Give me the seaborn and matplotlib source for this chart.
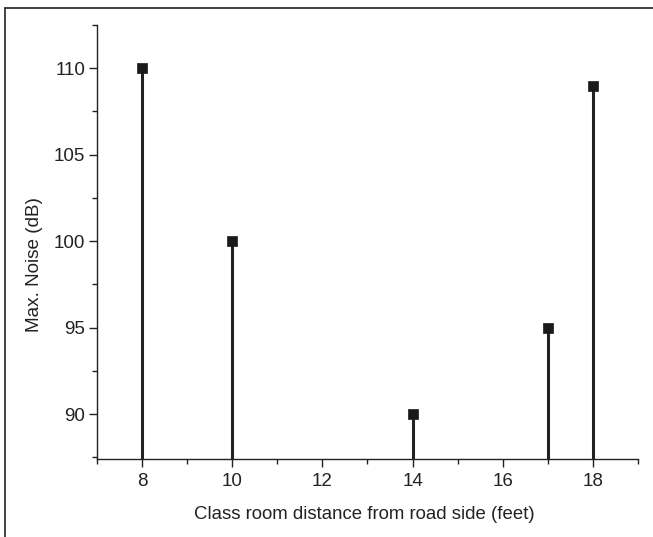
import matplotlib
matplotlib.use("Agg")
import matplotlib.pyplot as plt
from matplotlib.lines import Line2D
from matplotlib.ticker import MultipleLocator
import seaborn as sns
import pandas as pd

distance_ft = [8, 10, 14, 17, 18]
max_noise_db = [110, 100, 90, 95, 109]

df = pd.DataFrame({"distance": distance_ft, "noise": max_noise_db})

sns.set_style("ticks")
plt.rcParams["font.family"] = ["Liberation Sans", "DejaVu Sans"]

fig = plt.figure(figsize=(6.53, 5.37), dpi=100)
ax = fig.add_axes([97/653, 78/537, (638-97)/653, (459-25)/537])

ax.vlines(df["distance"], 0, df["noise"], color="#222222", linewidth=2.2, zorder=2)
sns.scatterplot(data=df, x="distance", y="noise", marker="s", s=55, color="#1a1a1a",
                edgecolor="#1a1a1a", linewidth=0.5, ax=ax, zorder=3, legend=False)

ax.set_xlim(7, 19)
ax.set_ylim(87.4, 112.5)
ax.xaxis.set_major_locator(MultipleLocator(2))
ax.xaxis.set_minor_locator(MultipleLocator(1))
ax.yaxis.set_major_locator(MultipleLocator(5))
ax.yaxis.set_minor_locator(MultipleLocator(2.5))

ax.tick_params(which="major", direction="out", length=6, width=1, color="#222222",
               labelsize=13.5, labelcolor="#222222")
ax.tick_params(axis="x", which="major", pad=4)
ax.tick_params(axis="y", which="major", pad=2.5)
ax.tick_params(which="minor", direction="out", length=3.5, width=1, color="#222222")

sns.despine(ax=ax)
for s in ("left", "bottom"):
    ax.spines[s].set_linewidth(1)
    ax.spines[s].set_color("#222222")

ax.set_xlabel("Class room distance from road side (feet)", fontsize=13.4, color="#222222")
ax.set_ylabel("Max. Noise (dB)", fontsize=13.6, color="#222222")
ax.xaxis.set_label_coords(0.495, -0.108)
ax.yaxis.set_label_coords(-0.1, 0.447)

fig.add_artist(Line2D([5/653, 1], [1 - 8/537, 1 - 8/537], transform=fig.transFigure,
                      color="#333333", linewidth=1.3))
fig.add_artist(Line2D([5/653, 5/653], [0, 1 - 8/537], transform=fig.transFigure,
                      color="#333333", linewidth=1.3))

fig.savefig("out.png", dpi=100)
